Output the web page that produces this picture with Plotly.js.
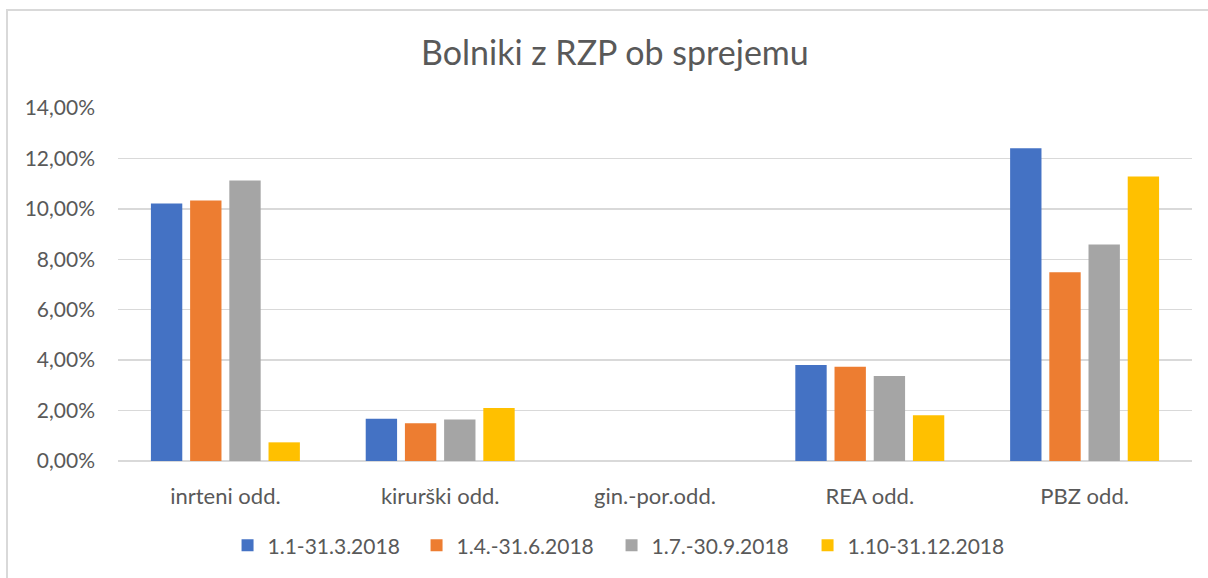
<!DOCTYPE html>
<html>
<head>
<meta charset="utf-8">
<script src="https://cdn.plot.ly/plotly-3.0.1.min.js"></script>
<style>
  html, body { margin: 0; padding: 0; background: #fff; }
  #wrap { position: relative; width: 1208px; height: 578px; }
  #chart { position: absolute; left: 0; top: 0; width: 1208px; height: 578px; }
  #frame { position: absolute; left: 6px; top: 9px; right: -4px; bottom: -4px;
           border: 2px solid #d9d9d9; pointer-events: none; }
</style>
</head>
<body>
<div id="wrap">
  <div id="chart"></div>
  <div id="frame"></div>
</div>
<script>
const categories = ["inrteni odd.", "kirurški odd.", "gin.-por.odd.", "REA odd.", "PBZ odd."];
const seriesNames = ["1.1-31.3.2018", "1.4.-31.6.2018", "1.7.-30.9.2018", "1.10-31.12.2018"];
const q1 = [0.1021, 0.0168, 0, 0.0381, 0.1240];
const q2 = [0.1033, 0.0150, 0, 0.0374, 0.0749];
const q3 = [0.1112, 0.0165, 0, 0.0337, 0.0859];
const q4 = [0.0074, 0.0210, 0, 0.0181, 0.1128];
const colors = ["#4472C4", "#ED7D31", "#A5A5A5", "#FFC000"];
const legendWidths = [144, 150, 151, 165];

const seriesValues = [q1, q2, q3, q4];
const traces = seriesValues.map((vals, i) => ({
  type: "bar",
  name: seriesNames[i],
  x: categories,
  y: vals,
  marker: { color: colors[i] },
  legendwidth: legendWidths[i],
  hoverinfo: "skip"
}));

const textColor = "#595959";
const fam = "Lato, 'Open Sans', sans-serif";
const layout = {
  width: 1208,
  height: 578,
  separators: ",.",
  paper_bgcolor: "rgba(0,0,0,0)",
  plot_bgcolor: "#ffffff",
  font: { family: fam, color: textColor, size: 21 },
  title: {
    text: "Bolniki z RZP ob sprejemu",
    font: { size: 34, color: textColor, family: fam },
    x: 0.509, xanchor: "center",
    y: 0.908, yanchor: "middle"
  },
  margin: { l: 118, r: 16, t: 108, b: 115 },
  barmode: "group",
  bargap: 0.27,
  bargroupgap: 0.2,
  xaxis: {
    type: "category",
    showgrid: false,
    showline: false,
    ticks: "",
    tickfont: { size: 22, color: textColor },
    ticklabelstandoff: 20
  },
  yaxis: {
    range: [0, 0.14],
    dtick: 0.02,
    tick0: 0,
    tickformat: ".2%",
    showgrid: true,
    gridcolor: "#d9d9d9",
    gridwidth: 1.5,
    zeroline: true,
    zerolinecolor: "#d9d9d9",
    zerolinewidth: 1.5,
    showline: false,
    ticks: "",
    tickfont: { size: 21, color: textColor },
    ticklabelstandoff: 22
  },
  showlegend: true,
  legend: {
    orientation: "h",
    x: 0.102, xanchor: "left",
    y: -0.24, yanchor: "middle",
    font: { size: 21, color: textColor },
    itemwidth: 30,
    tracegroupgap: 0
  }
};

Plotly.newPlot("chart", traces, layout, { displayModeBar: false, staticPlot: true });
</script>
</body>
</html>
